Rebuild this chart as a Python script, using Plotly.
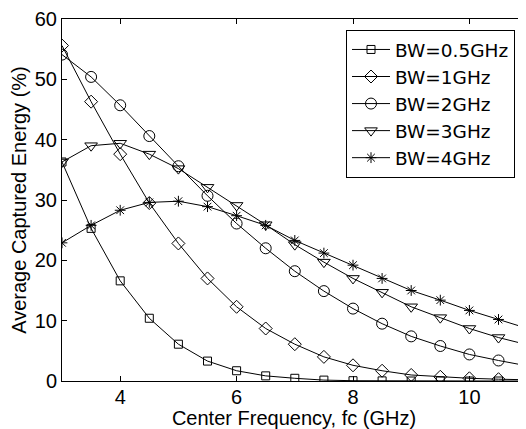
import plotly.graph_objects as go

fc = [3, 3.5, 4, 4.5, 5, 5.5, 6, 6.5, 7, 7.5, 8, 8.5, 9, 9.5, 10, 10.5, 11]
bw05 = [36.3, 25.3, 16.6, 10.4, 6.1, 3.3, 1.7, 0.85, 0.45, 0.15, 0.05, 0.02, 0.0, 0.0, 0.0, 0.0, 0.0]
bw1 = [55.6, 46.3, 37.6, 29.5, 22.8, 17.0, 12.3, 8.7, 6.1, 4.0, 2.6, 1.7, 1.0, 0.7, 0.45, 0.3, 0.2]
bw2 = [54.1, 50.4, 45.7, 40.6, 35.6, 30.7, 26.1, 22.0, 18.2, 14.9, 12.0, 9.5, 7.4, 5.8, 4.4, 3.4, 2.5]
bw3 = [36.3, 39.0, 39.4, 37.6, 35.2, 32.1, 29.1, 25.9, 22.6, 19.7, 17.0, 14.7, 12.3, 10.5, 8.7, 7.2, 6.0]
bw4 = [22.9, 25.8, 28.3, 29.6, 29.8, 28.9, 27.4, 25.8, 23.3, 21.2, 19.2, 17.0, 15.0, 13.4, 11.7, 10.2, 8.7]

names = ["BW=0.5GHz", "BW=1GHz", "BW=2GHz", "BW=3GHz", "BW=4GHz"]
series = [bw05, bw1, bw2, bw3, bw4]
symbols = ["square-open", "diamond-open", "circle-open", "triangle-down-open", "asterisk-open"]
sizes = [8, 10, 11, 11, 9]
xticks = [4, 6, 8, 10]
yticks = [0, 10, 20, 30, 40, 50, 60]

FONT = "Liberation Sans, Arial, sans-serif"
LEGFONT = "DejaVu Sans, Liberation Sans, sans-serif"

fig = go.Figure()
for name, ys, sym, sz in zip(names, series, symbols, sizes):
    fig.add_trace(go.Scatter(
        x=fc, y=ys, name=name, mode="lines+markers",
        line=dict(color="black", width=1),
        marker=dict(symbol=sym, size=sz, color="black",
                    line=dict(color="black", width=1)),
    ))

# invisible trace for mirrored axes ticks
fig.add_trace(go.Scatter(x=[fc[0]], y=[0], xaxis="x2", yaxis="y2",
                         mode="markers", marker=dict(opacity=0),
                         showlegend=False, hoverinfo="skip"))

# page has an 8px body margin; figure is placed at (8, 8)
OFF = 8
L, T, B = 62 - OFF, 17 - OFF, 48
W, H = 526 - OFF, 429 - OFF
pw = W - L
ph = H - T - B
xr = [3, 3 + pw / 58.2]
yr = [0, 60]
fig.update_layout(
    width=W, height=H,
    margin=dict(l=L, r=0, t=T, b=B, pad=0),
    paper_bgcolor="white", plot_bgcolor="white",
    font=dict(family=FONT, size=20, color="black"),
    showlegend=True,
    legend=dict(x=(346 - 62) / pw, y=(381 - 28) / ph, xanchor="left", yanchor="top",
                bgcolor="white", bordercolor="black", borderwidth=1,
                itemwidth=38,
                font=dict(family=LEGFONT, size=18.5, color="black")),
    xaxis=dict(range=xr, tickvals=xticks, ticks="inside", ticklen=5,
               tickcolor="black", showline=True, linecolor="black", linewidth=1,
               showgrid=False, zeroline=False, ticklabeloverflow="allow",
               ticklabelstandoff=-2,
               title=dict(text="Center Frequency, fc (GHz)", standoff=4,
                          font=dict(size=20))),
    yaxis=dict(range=yr, tickvals=yticks, ticks="inside", ticklen=5,
               tickcolor="black", showline=True, linecolor="black", linewidth=1,
               showgrid=False, zeroline=False, ticklabeloverflow="allow",
               title=dict(text="Average Captured Energy (%)", standoff=6,
                          font=dict(size=20))),
    xaxis2=dict(range=xr, overlaying="x", side="top", tickvals=xticks,
                ticks="inside", ticklen=5, tickcolor="black", showticklabels=False,
                showline=True, linecolor="black", linewidth=1, showgrid=False,
                zeroline=False),
    yaxis2=dict(range=yr, overlaying="y", side="right", tickvals=yticks,
                ticks="inside", ticklen=5, tickcolor="black", showticklabels=False,
                showline=False, showgrid=False, zeroline=False),
)

fig.write_html("out.html")
